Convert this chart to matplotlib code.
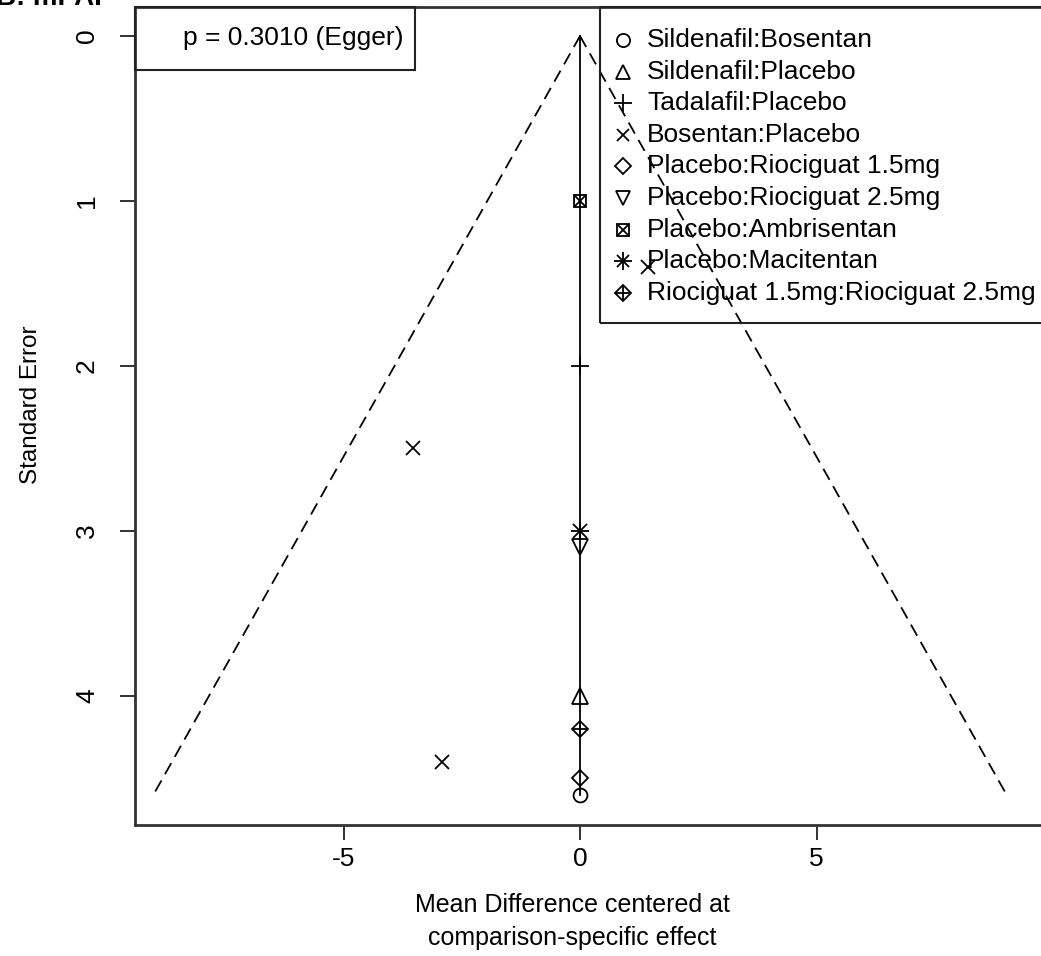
import matplotlib
matplotlib.use("Agg")
import matplotlib.pyplot as plt
from matplotlib.lines import Line2D
from matplotlib.patches import Rectangle

plt.rcParams.update({"font.family": ["Liberation Sans", "DejaVu Sans"],
                     "font.size": 18})

W, H = 1041, 956

# comparisons, one marker style each (R pch 1,2,3,4,5,6,7,8,9)
comparisons = ["Sildenafil:Bosentan", "Sildenafil:Placebo", "Tadalafil:Placebo",
               "Bosentan:Placebo", "Placebo:Riociguat 1.5mg",
               "Placebo:Riociguat 2.5mg", "Placebo:Ambrisentan",
               "Placebo:Macitentan", "Riociguat 1.5mg:Riociguat 2.5mg"]

# centred effects and standard errors per study, grouped by comparison
effects = [[0.0], [0.0], [0.0], [-3.53, -2.92, 1.44], [0.0], [0.0], [0.0],
           [0.0], [0.0]]
std_err = [[4.60], [4.00], [2.00], [2.50, 4.40, 1.40], [4.50], [3.10], [1.00],
           [3.00], [4.20]]

egger_p = 0.3010

# marker layers (marker, size) drawn on top of each other
MARKERS = [
    [("o", 10)],
    [("^", 11)],
    [("+", 13)],
    [("x", 9.5)],
    [("D", 8.5)],
    [("v", 11)],
    [("s", 9), ("x", 9)],
    [("+", 13), ("x", 9.5)],
    [("D", 8.5), ("+", 12)],
]
MEW = 1.3
LEG_FS = 19


def fx(px):
    return px / W


def fy(py):
    return 1 - py / H


fig = plt.figure(figsize=(W / 100, H / 100), dpi=100)
left, right, top, bottom = 135, 1045, 7, 825
ax = fig.add_axes([fx(left), fy(bottom), fx(right - left), (bottom - top) / H])

# x: 0 at px 580, 47.3 px per unit; y: 0 at px 36, 164.9 px per unit
ax.set_xlim((left - 580) / 47.3, (right - 580) / 47.3)
ax.set_ylim((bottom - 36) / 164.9, (top - 36) / 164.9)

se_max = max(max(s) for s in std_err)
ax.plot([0, -1.96 * se_max], [0, se_max], color="black", lw=1.3,
        linestyle=(0, (7, 4)))
ax.plot([0, 1.96 * se_max], [0, se_max], color="black", lw=1.3,
        linestyle=(0, (7, 4)))
ax.plot([0, 0], [0, se_max], color="black", lw=1.3)

for xs, ys, layers in zip(effects, std_err, MARKERS):
    for m, ms in layers:
        ax.plot(xs, ys, linestyle="none", marker=m, markersize=ms,
                markerfacecolor="none", markeredgecolor="black",
                markeredgewidth=MEW, zorder=3)

ax.set_xticks([-5, 0, 5])
ax.set_xticklabels(["-5", "0", "5"])
ax.set_yticks([0, 1, 2, 3, 4])
ax.tick_params(axis="both", direction="out", length=11, width=1.3,
               color="#222222", labelsize=19)
ax.tick_params(axis="x", pad=5)
ax.tick_params(axis="y", pad=15)
for lab in ax.get_yticklabels():
    lab.set_rotation(90)
    lab.set_va("center")
for sp in ax.spines.values():
    sp.set_linewidth(2.0)
    sp.set_color("#333333")
ax.spines["right"].set_visible(False)

fig.text(fx(31), fy(405), "Standard Error", rotation=90, ha="center",
         va="center", fontsize=17.5)
fig.text(fx(572), fy(905), "Mean Difference centered at", ha="center",
         va="center", fontsize=18)
fig.text(fx(572), fy(938), "comparison-specific effect", ha="center",
         va="center", fontsize=18)

# panel title, mostly cropped off the top
fig.text(fx(-4), fy(11), "B: mPAP", ha="left", va="bottom", fontsize=20,
         fontweight="bold")

# Egger box
fig.add_artist(Rectangle((fx(135), fy(70)), fx(415 - 135), (70 - 7) / H,
                         transform=fig.transFigure, fill=False,
                         edgecolor="#222222", lw=1.5))
fig.text(fx(183), fy(38), "p = %.4f (Egger)" % egger_p, ha="left",
         va="center", fontsize=LEG_FS)

# legend box
fig.add_artist(Rectangle((fx(600), fy(323)), fx(600), (323 - 7) / H,
                         transform=fig.transFigure, fill=False,
                         edgecolor="#222222", lw=1.5))
for i, (name, layers) in enumerate(zip(comparisons, MARKERS)):
    yy = 40 + 31.6 * i
    for m, ms in layers:
        fig.add_artist(Line2D([fx(623)], [fy(yy)], transform=fig.transFigure,
                              linestyle="none", marker=m, markersize=ms * 0.95,
                              markerfacecolor="none", markeredgecolor="black",
                              markeredgewidth=MEW))
    fig.text(fx(647), fy(yy), name, ha="left", va="center", fontsize=LEG_FS)

fig.savefig("out.png", dpi=100, facecolor="white")
